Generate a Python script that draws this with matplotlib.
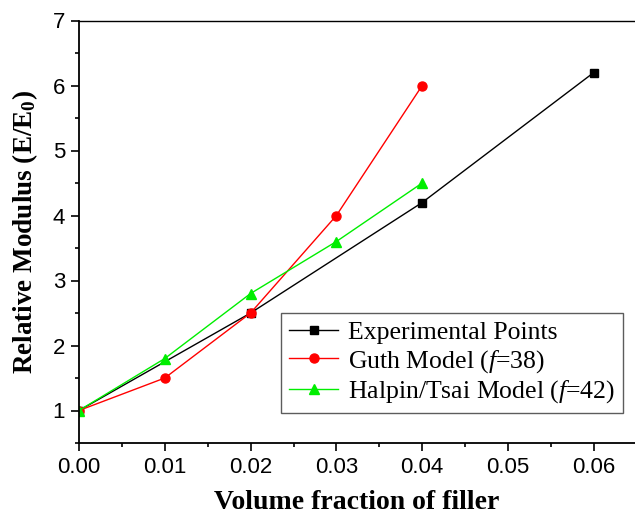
import matplotlib
matplotlib.use("Agg")
import matplotlib.pyplot as plt
from matplotlib.ticker import MultipleLocator

plt.rcParams['mathtext.fontset'] = 'custom'
plt.rcParams['mathtext.it'] = 'Liberation Serif:italic'
plt.rcParams['mathtext.rm'] = 'Liberation Serif'
plt.rcParams['mathtext.bf'] = 'Liberation Serif:bold'

exp_x = [0.0, 0.02, 0.04, 0.06]
exp_y = [1.0, 2.5, 4.2, 6.2]
guth_x = [0.0, 0.01, 0.02, 0.03, 0.04]
guth_y = [1.0, 1.5, 2.5, 4.0, 6.0]
hal_x = [0.0, 0.01, 0.02, 0.03, 0.04]
hal_y = [1.0, 1.8, 2.8, 3.6, 4.5]
x_ticks = [0.00, 0.01, 0.02, 0.03, 0.04, 0.05, 0.06]
y_ticks = [1, 2, 3, 4, 5, 6, 7]

fig = plt.figure(figsize=(6.35, 5.18), dpi=100)
L, B, T = 79/635, 1-443/518, 1-20.5/518
ax = fig.add_axes([L, B, 1-L, T-B])

ax.plot(exp_x, exp_y, color='black', lw=1, marker='s', ms=6, label='Experimental Points')
ax.plot(guth_x, guth_y, color='red', lw=1, marker='o', ms=6.5, label=r'Guth Model ($\mathit{f}$=38)')
ax.plot(hal_x, hal_y, color='#00ee00', lw=1, marker='^', ms=7, label=r'Halpin/Tsai Model ($\mathit{f}$=42)')

ax.set_xlim(0, 0.0648)
ax.set_ylim(0.5, 7)
ax.set_xticks(x_ticks)
ax.set_xticklabels([f"{v:.2f}" for v in x_ticks])
ax.set_yticks(y_ticks)
ax.xaxis.set_minor_locator(MultipleLocator(0.005))
ax.yaxis.set_minor_locator(MultipleLocator(0.5))
ax.tick_params(which='both', direction='out', width=1.2)
ax.tick_params(which='major', length=6, labelsize=16, pad=4)
ax.tick_params(which='minor', length=3)
for lab in ax.get_xticklabels() + ax.get_yticklabels():
    lab.set_family('Liberation Sans')
ax.spines['right'].set_visible(False)
for s in ['left', 'bottom']:
    ax.spines[s].set_linewidth(1.3)
ax.spines['top'].set_linewidth(1.0)

ax.set_xlabel('Volume fraction of filler', family='Liberation Serif', fontweight='bold', fontsize=20, labelpad=9)
ax.set_ylabel(r'Relative Modulus (E/E$_\mathbf{0}$)', family='Liberation Serif', fontweight='bold', fontsize=19.5, labelpad=9)

leg = ax.legend(loc='lower right', bbox_to_anchor=(623/635, 1-413/518), bbox_transform=fig.transFigure,
                prop={'family': 'Liberation Serif', 'size': 18.5}, frameon=True, fancybox=False,
                edgecolor='#333333', handlelength=1.9, borderpad=0.3, labelspacing=0.15, handletextpad=0.4,
                borderaxespad=0)
leg.get_frame().set_linewidth(1.0)

fig.savefig('out.png', dpi=100)
